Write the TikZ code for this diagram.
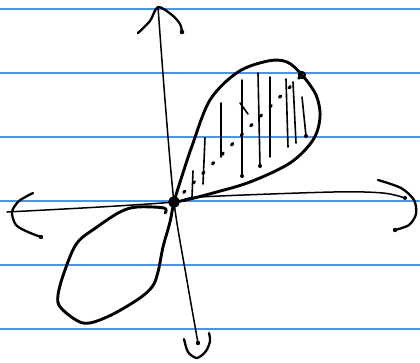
\documentclass[tikz,border=0pt]{standalone}
\usepackage{tikz}
\definecolor{paperblue}{RGB}{78,148,228}
\tikzset{
    ruling/.style = {
        draw=paperblue, line width=1.3pt
    },
    axisline/.style = {
        line width=1.5pt, line cap=round
    },
    hookline/.style = {
        line width=2.3pt, line cap=round, line join=round
    },
    lobe/.style = {
        line width=2.9pt, line cap=round, line join=round
    },
    hatch/.style = {
        line width=1.6pt, line cap=round
    },
    dotline/.style = {
        line width=3pt, line cap=round,
        dash pattern=on 2pt off 11.5pt
    }
}

\begin{document}
\begin{tikzpicture}[x=1pt, y=-1pt]

\useasboundingbox [fill=white] (0,0) rectangle (420,362);

% lined paper
\foreach \yy in {9,73,137,201,265,329}
    \draw [ruling] (0,\yy) -- (420,\yy);

\coordinate (O) at (174,202);
\coordinate (P) at (302,75);

% axes
\draw [axisline] plot [smooth] coordinates {(158,7) (165,100) (O) (186,275) (198,343)};
\draw [axisline] plot [smooth] coordinates {(7,212) (100,207) (O) (200,197) (333,192) (383,193) (405,198)};

% hand drawn arrow ends
\draw [hookline] plot [smooth] coordinates {(138,33) (150,21) (158,7) (172,15) (180,24) (182,32)};
\draw [hookline] plot [smooth] coordinates {(33,193) (19,201) (12,212) (16,225) (28,232) (41,237)};
\draw [hookline] plot [smooth] coordinates {(378,180) (401,188) (414,200) (416,214) (409,225) (395,230)};
\draw [hookline] plot [smooth] coordinates {(184,339) (188,352) (197,358) (206,351) (210,341) (209,333)};
\fill (198,343) circle (2.2pt);
\fill (405,198) circle (2pt);
\fill (182,32) circle (2.3pt);
\fill (41,237) circle (2.2pt);
\fill (395,230) circle (2.2pt);

% both lobes, one stroke
\draw [lobe] plot [smooth, tension=0.55] coordinates {
    (165,213) (164,208) (137,207) (120,212) (97,227) (77,243) (65,270)
    (58,295) (61,308) (83,323) (107,317) (137,300) (152,287) (158,272)
    (163,247) (170,222) (O) (182,176) (192,146) (210,100) (238,72)
    (268,61) (287,62) (P) (316,95) (320,117) (313,140) (290,163)
    (250,182) (213,193) (186,200) (O)};

% shading of the upper lobe
\draw [hatch] (193,171) -- (192,197);
\draw [hatch] (205,138) -- (203,184);
\draw [hatch] (221,103) -- (221,157);
\draw [hatch] (242,80) -- (242,176);
\draw [hatch] (240,103) -- (248,114);
\draw [hatch] (258,73) -- (260,166);
\draw [hatch] (270,77) -- (270,157);
\draw [hatch] (286,79) -- (288,147);
\draw [hatch] (293,82) -- (296,143);
\draw [hatch] (302,97) -- (306,136);
\fill (242,176) circle (2pt);
\fill (260,166) circle (2pt);
\fill (306,136) circle (2pt);

% dotted radius to the marked point
\draw [dotline] (O) -- (P);

% marked points
\draw [line width=2.6pt, fill=black] (O) circle (4.5pt);
\draw [line width=2pt] (P) circle (3pt);

\end{tikzpicture}
\end{document}
